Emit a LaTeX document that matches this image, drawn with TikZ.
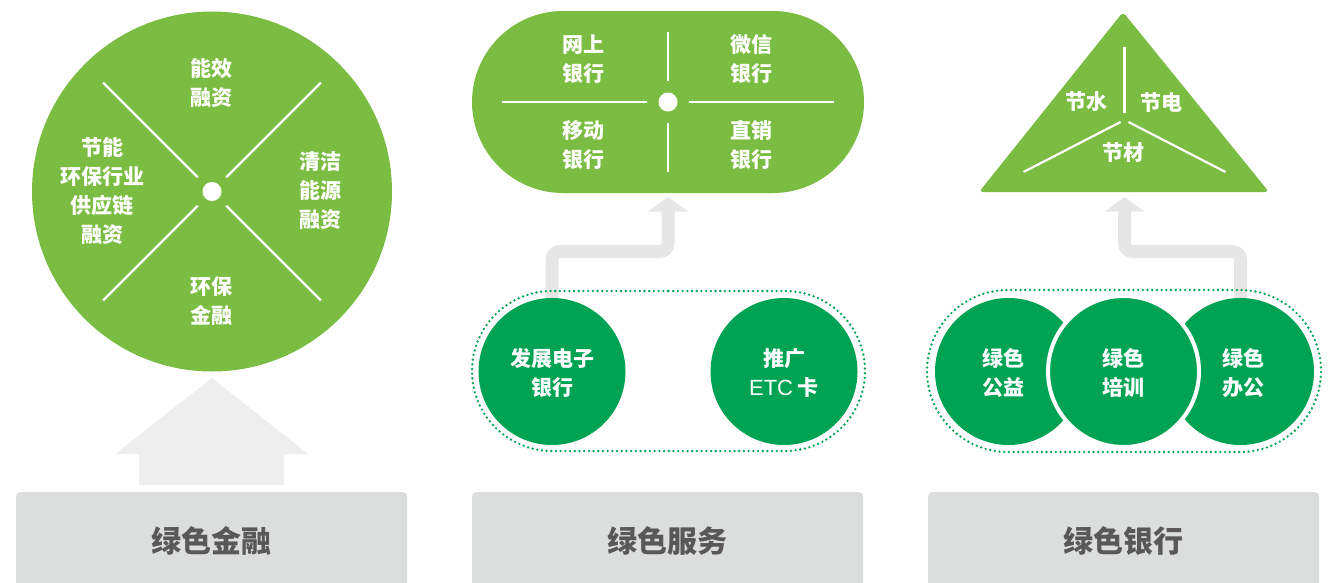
\documentclass[tikz,border=0pt]{standalone}
\usepackage{fontspec}
\setmainfont{Noto Sans CJK SC}
\newfontfamily\latinfont{Liberation Sans}
\usetikzlibrary{shapes.misc,calc}
\definecolor{lgreen}{HTML}{7BBD42}
\definecolor{dgreen}{HTML}{00A353}
\definecolor{boxgray}{HTML}{DCDDDD}
\definecolor{txtgray}{HTML}{595757}
\definecolor{arrgray}{HTML}{E6E6E6}
\definecolor{bigarr}{HTML}{EEEEEE}
\begin{document}
\begin{tikzpicture}[x=1pt,y=-1pt,
  lbl/.style={text=white, font=\bfseries\fontsize{21}{29}\selectfont, align=center, inner sep=0pt},
  divider/.style={draw=white, line width=2.2pt},
  basebox/.style={fill=boxgray, rounded corners=4pt, minimum width=391pt, minimum height=110pt, inner sep=0pt, anchor=north},
  boxlbl/.style={text=txtgray, font=\bfseries\fontsize{30}{36}\selectfont, inner sep=0pt},
  dotc/.style={circle, fill=white, minimum size=19pt, inner sep=0pt},
  place/.style={circle, minimum size=147pt, inner sep=0pt},
  gcircle/.style={circle, fill=dgreen, minimum size=147pt, inner sep=0pt},
  dotline/.style={draw=dgreen, line width=2.6pt, dash pattern=on 0pt off 4.7pt, line cap=round},
  conn/.style={draw=arrgray, line width=13pt, rounded corners=8pt},
  arrhead/.style={fill=arrgray}
]
\useasboundingbox (0,0) rectangle (1335,582);
\clip (0,0) rectangle (1335,582);

% ---------- bottom boxes ----------
\node[basebox] (b1) at (211.5,492) {};
\node[basebox] (b2) at (667.5,492) {};
\node[basebox] (b3) at (1123.5,492) {};
\node[boxlbl] (b1t) at (211.5,541) {绿色金融};
\node[boxlbl] (b2t) at (667.5,541) {绿色服务};
\node[boxlbl] (b3t) at (1123.5,541) {绿色银行};

% ---------- left: finance circle ----------
\fill[bigarr] (212,378) -- (308,454) -- (284,454) -- (284,485) -- (139,485) -- (139,454) -- (115,454) -- cycle;
\node[circle, fill=lgreen, minimum size=360pt, inner sep=0pt] (fin) at (212,191.5) {};
\node[dotc] (findot) at (fin.center) {};
\foreach \a in {45,135,225,315}
  \draw[divider] ($(fin.center)+(\a:20)$) -- ($(fin.center)+(\a:154)$);
\node[lbl] (f1) at (211,82.5) {能效\\融资};
\node[lbl] (f2) at (102,191.5) {节能\\环保行业\\供应链\\融资};
\node[lbl] (f3) at (320,191) {清洁\\能源\\融资};
\node[lbl] (f4) at (211,301.5) {环保\\金融};

% ---------- middle: service pill ----------
\node[rounded rectangle, fill=lgreen, minimum width=392pt, minimum height=182pt, inner sep=0pt] (srv) at (668,102) {};
\node[dotc] (srvdot) at (srv.center) {};
\draw[divider] ($(srv.center)+(-21,0)$) -- ($(srv.center)+(-166,0)$);
\draw[divider] ($(srv.center)+(21,0)$) -- ($(srv.center)+(166,0)$);
\draw[divider] ($(srv.center)+(0,-21)$) -- ($(srv.center)+(0,-70)$);
\draw[divider] ($(srv.center)+(0,21)$) -- ($(srv.center)+(0,70)$);
\node[lbl] (s1) at (583,59) {网上\\银行};
\node[lbl] (s2) at (751,59) {微信\\银行};
\node[lbl] (s3) at (583,145.5) {移动\\银行};
\node[lbl] (s4) at (751,145.5) {直销\\银行};

% middle group
\node[place] (m1) at (552,371.5) {};
\node[place] (m2) at (784,371.5) {};
\coordinate (mbend) at (668,251.5);
\coordinate (mhead) at (668,211);
\path[conn] (m1.center) |- (mbend) -- (mhead);
\fill[arrhead] ($(mhead)+(-20,0.5)$) -- ($(mhead)+(20,0.5)$) -- ($(mhead)+(0,-14)$) -- cycle;
\node[gcircle] (m1c) at (m1.center) {};
\node[gcircle] (m2c) at (m2.center) {};
\node[rounded rectangle, dotline, minimum width=393pt, minimum height=160pt, inner sep=0pt] (mgrp) at (668.5,371) {};
\node[lbl] (m1t) at (552,372.5) {发展电子\\银行};
\node[lbl] (m2t) at (784,372.5) {推广\\{\latinfont\mdseries\fontsize{22}{29}\selectfont ETC} 卡};

% ---------- right: triangle ----------
\coordinate (tA) at (1123,12);
\coordinate (tB) at (1269,192);
\coordinate (tC) at (979,192);
\fill[lgreen, rounded corners=4pt] (tA) -- (tB) -- (tC) -- cycle;
\coordinate (tc) at (1124.5,117);
\draw[divider] ($(tc)+(0,-4)$) -- ($(tc)+(0,-70)$);
\draw[divider] ($(tc)+(-4,5)$) -- ($(tc)+(-101,55)$);
\draw[divider] ($(tc)+(4,5)$) -- ($(tc)+(101,55)$);
\node[lbl] (t1) at (1086,102) {节水};
\node[lbl] (t2) at (1161,102) {节电};
\node[lbl] (t3) at (1123,153) {节材};

% right group
\node[place] (g1) at (1008.5,371.5) {};
\node[place] (g3) at (1240.5,371.5) {};
\node[place] (g2) at (1123.5,371.5) {};
\coordinate (gbend) at (1124.5,251.5);
\coordinate (ghead) at (1124.5,211);
\path[conn] (g3.center) |- (gbend) -- (ghead);
\fill[arrhead] ($(ghead)+(-20,0.5)$) -- ($(ghead)+(20,0.5)$) -- ($(ghead)+(0,-14)$) -- cycle;
\node[gcircle] (g1c) at (g1.center) {};
\node[gcircle] (g3c) at (g3.center) {};
\node[circle, fill=dgreen, draw=white, line width=4pt, minimum size=151pt, inner sep=0pt] (g2c) at (g2.center) {};
\node[rounded rectangle, dotline, minimum width=394pt, minimum height=162pt, inner sep=0pt] (ggrp) at (1124,371) {};
\node[lbl] (g1t) at (1003,372.5) {绿色\\公益};
\node[lbl] (g2t) at (1123,372.5) {绿色\\培训};
\node[lbl] (g3t) at (1243,372.5) {绿色\\办公};
\end{tikzpicture}
\end{document}
